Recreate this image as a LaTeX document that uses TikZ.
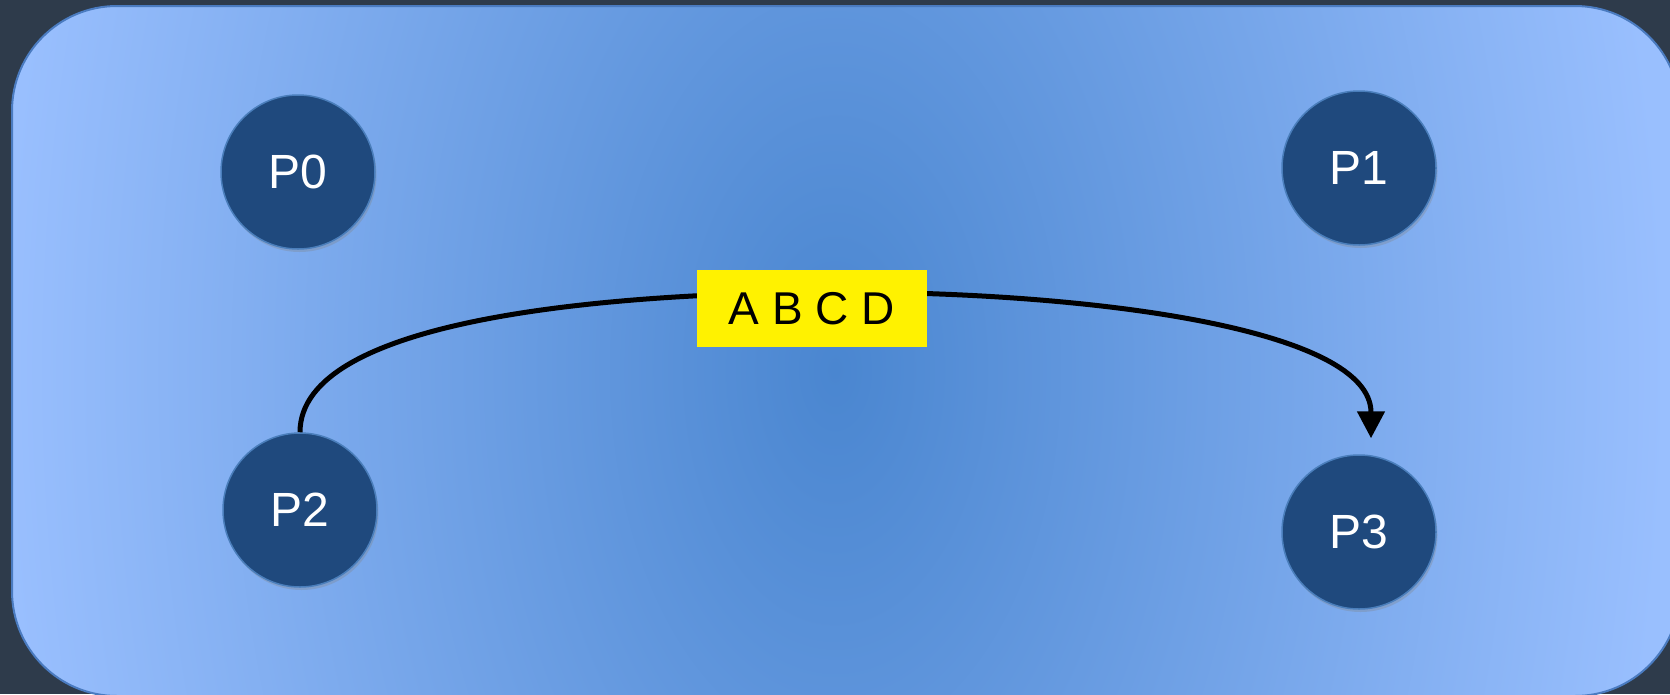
\documentclass[tikz,border=0pt]{standalone}
\usepackage{fontspec}
\setmainfont{Liberation Sans}
\usetikzlibrary{arrows.meta,shadows,calc}
\definecolor{bgdark}{HTML}{2E3B4B}
\definecolor{panelc}{HTML}{4A86D0}
\definecolor{panele}{HTML}{99BFFE}
\definecolor{panelb}{HTML}{4A7BC0}
\definecolor{nodefill}{HTML}{1F497D}
\definecolor{nodeedge}{HTML}{4A7EBB}
\tikzset{
  pnode/.style={circle, minimum size=154pt, inner sep=0pt, fill=nodefill,
    draw=nodeedge, line width=1.5pt, text=white,
    font=\fontsize{48}{56}\selectfont,
    drop shadow={opacity=0.3, shadow xshift=1.5pt, shadow yshift=-3pt}},
  lbl/.style={fill=yellow, minimum width=230pt, minimum height=77pt, inner sep=0pt,
    font=\fontsize{46}{54}\selectfont, text=black},
  conn/.style={line width=5pt, draw=black, -{Triangle[length=27pt,width=27pt]}}
}
\begin{document}
\begin{tikzpicture}[x=1pt,y=-1pt]
\useasboundingbox (0,0) rectangle (1670,694);
\fill[bgdark] (0,0) rectangle (1670,694);
\begin{scope}
  \clip[rounded corners=105pt] (12,6) rectangle (1680,696);
  \fill[panele] (0,0) rectangle (1690,700);
  \shade[inner color=panelc, outer color=panele] (835,370) ellipse [x radius=830pt, y radius=1385pt];
\end{scope}
\draw[panelb, line width=2pt, rounded corners=105pt] (12,6) rectangle (1680,696);
\node[pnode] (p0) at (298,172) {P0};
\node[pnode] (p1) at (1359,168) {P1};
\node[pnode] (p2) at (300,510) {P2};
\node[pnode] (p3) at (1359,532) {P3};
\coordinate (tip) at ($(p3.north)+(12,-16)$);
\draw[conn] (p2.north) .. controls (300,320) and (600,293) .. (835,292)
  .. controls (1100,292) and (1371,330) .. (tip);
\node[lbl] (abcd) at (812,308.5) {A B C D};
\end{tikzpicture}
\end{document}
